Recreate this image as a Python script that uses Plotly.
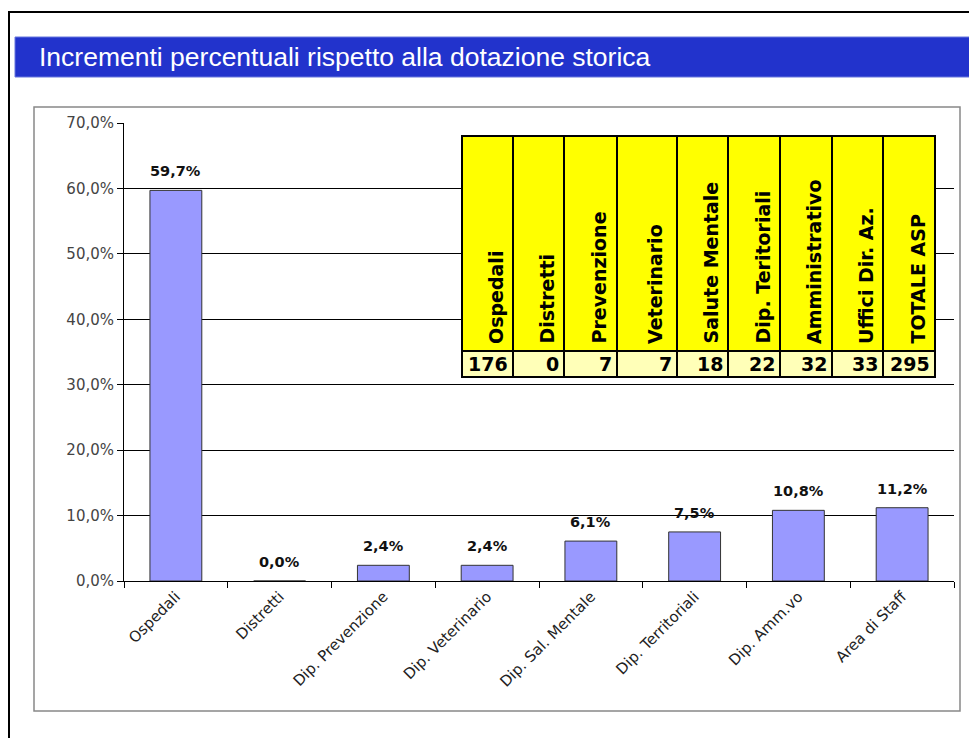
import plotly.graph_objects as go

categories = ["Ospedali", "Distretti", "Dip. Prevenzione", "Dip. Veterinario",
              "Dip. Sal. Mentale", "Dip. Territoriali", "Dip. Amm.vo", "Area di Staff"]
increments_pct = [59.7, 0.0, 2.4, 2.4, 6.1, 7.5, 10.8, 11.2]

table_labels = ["Ospedali", "Distretti", "Prevenzione", "Veterinario", "Salute Mentale",
                "Dip. Teritoriali", "Amministrativo", "Uffici Dir. Az.", "TOTALE ASP"]
table_values = [176, 0, 7, 7, 18, 22, 32, 33, 295]

y_ticks = [0, 10, 20, 30, 40, 50, 60, 70]

title_text = "Incrementi percentuali rispetto alla dotazione storica"

# ---- layout geometry (page pixels; page body has an 8px margin) ----
OFF = 8
W, H = 977 - OFF, 738 - OFF
PL, PR, PT, PB = 124, 954, 123, 581   # plot area in page pixels


def px(x):
    return (x - PL) / (PR - PL)


def py(y):
    return (PB - y) / (PB - PT)


def fmt(v):
    return f"{v:.1f}%".replace(".", ",")


fig = go.Figure()
fig.add_trace(go.Bar(
    x=categories, y=increments_pct,
    marker=dict(color="#9999FF", line=dict(color="#333333", width=1)),
    width=0.5,
    hoverinfo="x+y",
))

shapes = []
annotations = []

# data labels above bars
for c, v in zip(categories, increments_pct):
    annotations.append(dict(x=c, y=v, xref="x", yref="y", text=fmt(v),
                            showarrow=False, yanchor="bottom", yshift=9,
                            font=dict(family="DejaVu Sans", size=14.5, color="#111111",
                                      weight="bold")))

# outer frame
shapes.append(dict(type="rect", xref="paper", yref="paper",
                   x0=px(9), x1=px(1000), y0=py(12), y1=py(760),
                   line=dict(color="black", width=2), layer="below"))
# title bar
shapes.append(dict(type="rect", xref="paper", yref="paper",
                   x0=px(15), x1=px(1000), y0=py(37), y1=py(77),
                   fillcolor="#2233CC", line=dict(color="#6677DD", width=1), layer="below"))
annotations.append(dict(text=title_text, xref="paper", yref="paper",
                        x=px(37), y=py(57), xanchor="left", yanchor="middle",
                        showarrow=False,
                        font=dict(family="Liberation Sans", size=26.5, color="white")))
# chart box
shapes.append(dict(type="rect", xref="paper", yref="paper",
                   x0=px(34), x1=px(960), y0=py(107), y1=py(711),
                   line=dict(color="#888888", width=1.5), layer="below"))

# table
col_edges = [462, 513, 564, 617, 677, 728, 780, 832, 883, 935]
t_top, t_mid, t_bot = 136, 351, 377
for i, (lab, val) in enumerate(zip(table_labels, table_values)):
    x0, x1 = col_edges[i], col_edges[i + 1]
    shapes.append(dict(type="rect", xref="paper", yref="paper",
                       x0=px(x0), x1=px(x1), y0=py(t_mid), y1=py(t_top),
                       fillcolor="#FFFF00", line=dict(color="black", width=2), layer="above"))
    shapes.append(dict(type="rect", xref="paper", yref="paper",
                       x0=px(x0), x1=px(x1), y0=py(t_bot), y1=py(t_mid),
                       fillcolor="#FFFFB8", line=dict(color="black", width=2), layer="above"))
    annotations.append(dict(text=lab, xref="paper", yref="paper",
                            x=px((x0 + x1) / 2 + 8), y=py(t_mid - 5),
                            xanchor="center", yanchor="bottom", textangle=-90,
                            showarrow=False,
                            font=dict(family="DejaVu Sans", size=19, color="black",
                                      weight="bold")))
    annotations.append(dict(text=str(val), xref="paper", yref="paper",
                            x=px(x1 - 3), y=py((t_mid + t_bot) / 2),
                            xanchor="right", yanchor="middle",
                            showarrow=False,
                            font=dict(family="DejaVu Sans", size=19, color="black",
                                      weight="bold")))

fig.update_layout(
    width=W, height=H,
    margin=dict(l=PL - OFF, r=W - (PR - OFF), t=PT - OFF, b=H - (PB - OFF), pad=0),
    paper_bgcolor="white", plot_bgcolor="white",
    showlegend=False,
    bargap=0.5,
    shapes=shapes, annotations=annotations,
    font=dict(family="DejaVu Sans"),
)
fig.update_yaxes(
    range=[0, 70], tickvals=y_ticks, ticktext=[fmt(v) for v in y_ticks],
    showgrid=True, gridcolor="black", gridwidth=1,
    showline=True, linecolor="black", linewidth=1,
    ticks="outside", ticklen=6, tickcolor="black",
    tickfont=dict(family="DejaVu Sans", size=15, color="#444444"),
    zeroline=False,
)
fig.update_xaxes(
    showline=True, linecolor="black", linewidth=1,
    ticks="outside", ticklen=6, tickcolor="black", tickson="boundaries",
    tickangle=-45,
    tickfont=dict(family="DejaVu Sans", size=15, color="#222222"),
)

fig.write_html("out.html")
